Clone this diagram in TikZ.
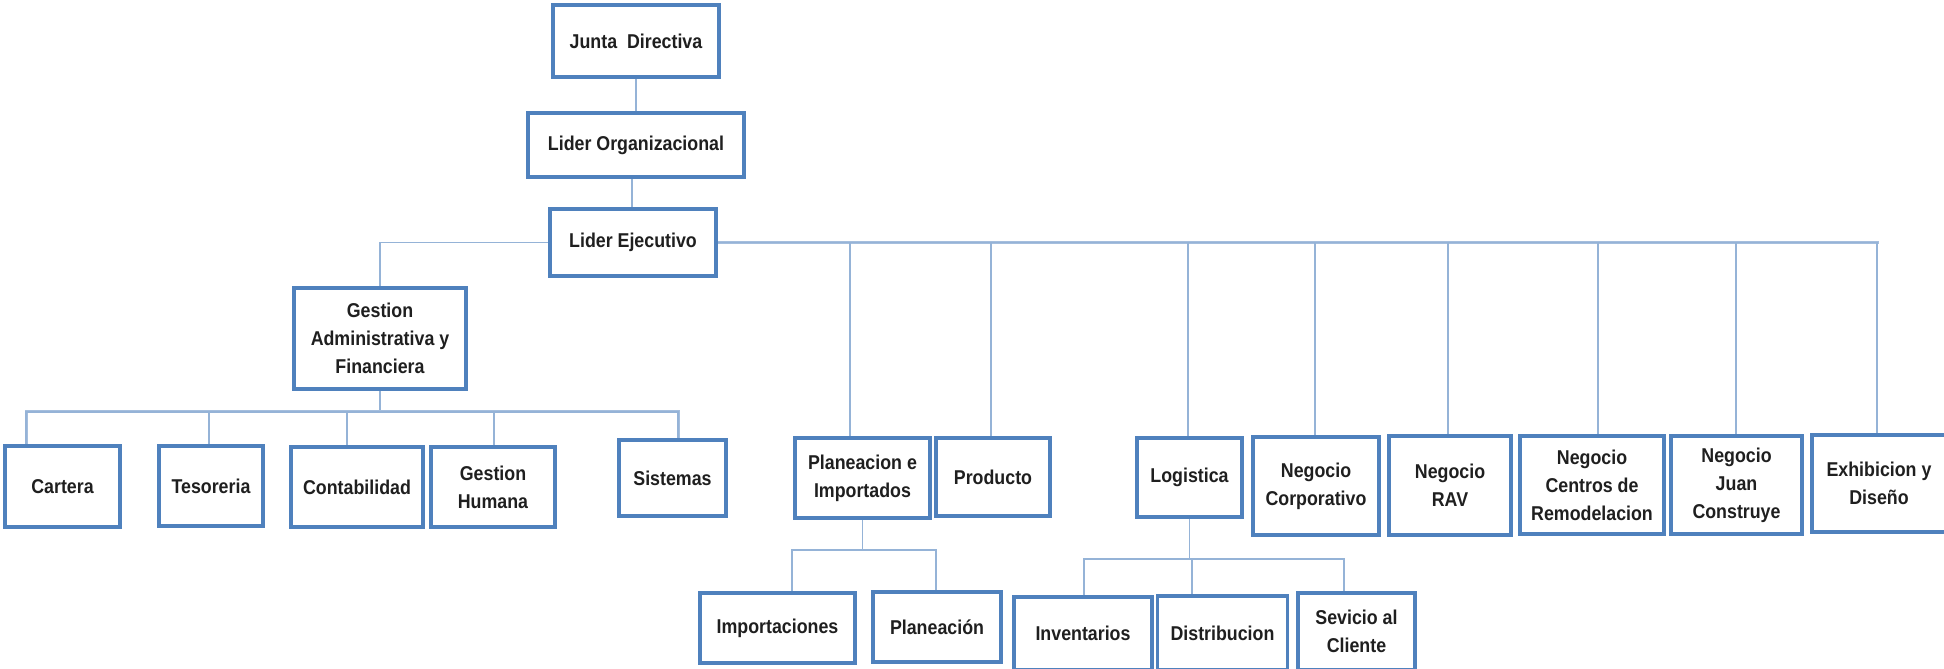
\documentclass[tikz,border=0pt]{standalone}
\usepackage{fontspec}
\setmainfont{Liberation Sans}[FakeStretch=0.89]
\usetikzlibrary{backgrounds}
\definecolor{boxblue}{HTML}{4F81BD}
\definecolor{linkblue}{HTML}{95B3D7}
\begin{document}
\begin{tikzpicture}[x=1pt,y=-1pt,
  unit/.style={draw=boxblue, line width=3.5pt, fill=white, inner sep=2pt,
    align=center, font=\fontsize{20}{28}\selectfont\bfseries, text=black!88},
  link/.style={draw=linkblue, line width=1.8pt},
  trunk/.style={draw=linkblue!85, line width=3pt}]
\useasboundingbox (0,0) rectangle (1944,669);

% top of the chart
\node[unit, minimum width=166pt, minimum height=72pt] (jd) at (636,41) {Junta\ \ Directiva};
\node[unit, minimum width=216pt, minimum height=64pt] (lo) at (636,145) {Lider Organizacional};
\node[unit, minimum width=166pt, minimum height=67pt] (le) at (633,242.5) {Lider Ejecutivo};

% second level
\node[unit, minimum width=172pt, minimum height=101pt] (gaf) at (380,338.5) {Gestion\\Administrativa y\\Financiera};
\node[unit, minimum width=135pt, minimum height=80pt] (pi) at (862.5,478) {Planeacion e\\Importados};
\node[unit, minimum width=114pt, minimum height=78pt] (prod) at (993,477) {Producto};
\node[unit, minimum width=105pt, minimum height=79pt] (log) at (1189.5,477.5) {Logistica};
\node[unit, minimum width=126pt, minimum height=98pt] (nc) at (1316,486) {Negocio\\Corporativo};
\node[unit, minimum width=122pt, minimum height=99pt] (rav) at (1450,485.5) {Negocio\\RAV};
\node[unit, minimum width=144pt, minimum height=98pt] (ncr) at (1592,485) {Negocio\\Centros de\\Remodelacion};
\node[unit, minimum width=131pt, minimum height=98pt] (njc) at (1736.5,485) {Negocio\\Juan\\Construye};
\node[unit, minimum width=134pt, minimum height=97pt] (exh) at (1879,483.5) {Exhibicion y\\Diseño};

% administrative and financial units
\node[unit, minimum width=115pt, minimum height=81pt] (car) at (62.5,486.5) {Cartera};
\node[unit, minimum width=104pt, minimum height=80pt] (tes) at (211,486) {Tesoreria};
\node[unit, minimum width=132pt, minimum height=80pt] (con) at (357,487) {Contabilidad};
\node[unit, minimum width=124pt, minimum height=80pt] (gh) at (493,487) {Gestion\\Humana};
\node[unit, minimum width=107pt, minimum height=76pt] (sis) at (672.5,478) {Sistemas};

% planning and logistics units
\node[unit, minimum width=155pt, minimum height=70pt] (imp) at (777.5,628) {Importaciones};
\node[unit, minimum width=128pt, minimum height=70pt] (pla) at (937,627) {Planeación};
\node[unit, minimum width=138pt, minimum height=73pt] (inv) at (1083,633.5) {Inventarios};
\node[unit, minimum width=130pt, minimum height=74pt] (dis) at (1222.5,633) {Distribucion};
\node[unit, minimum width=117pt, minimum height=77pt] (sac) at (1356.5,631.5) {Sevicio al\\Cliente};

% connectors, kept behind the boxes
\begin{scope}[on background layer]
  \draw[link] (jd.south) -- (lo.north);
  \draw[link] ([xshift=-4pt]lo.south) -- ([xshift=-1pt]le.north);
  % main bar out of Lider Ejecutivo
  \draw[link] (le.west) -| (gaf.north);
  \draw[trunk] (le.east) -- (le.east -| exh.north);
  \foreach \n/\dx in {pi/-12.5, prod/-2, log/-1.5, nc/-1, rav/-2, ncr/6, njc/-0.5, exh/-2}
    \draw[link] ([xshift=\dx pt]\n.north) |- (le.east);
  % administrative branch
  \draw[link] (gaf.south) -- ++(0,21) coordinate (gbar);
  \draw[trunk] (gbar) -| ([xshift=-36.5pt]car.north);
  \draw[trunk] (gbar) -| ([xshift=5.5pt]sis.north);
  \foreach \n/\dx in {car/-36.5, tes/-2, con/-10, gh/1, sis/5.5}
    \draw[link] ([xshift=\dx pt]\n.north) |- (gbar);
  % planning branch
  \draw[link] (pi.south) -- ++(0,30) coordinate (pbar);
  \foreach \n/\dx in {imp/14.5, pla/-1}
    \draw[link] ([xshift=\dx pt]\n.north) |- (pbar);
  % logistics branch
  \draw[link] (log.south) -- ++(0,40) coordinate (lbar);
  \foreach \n/\dx in {inv/1, dis/-30.5, sac/-12.5}
    \draw[link] ([xshift=\dx pt]\n.north) |- (lbar);
\end{scope}
\end{tikzpicture}
\end{document}
